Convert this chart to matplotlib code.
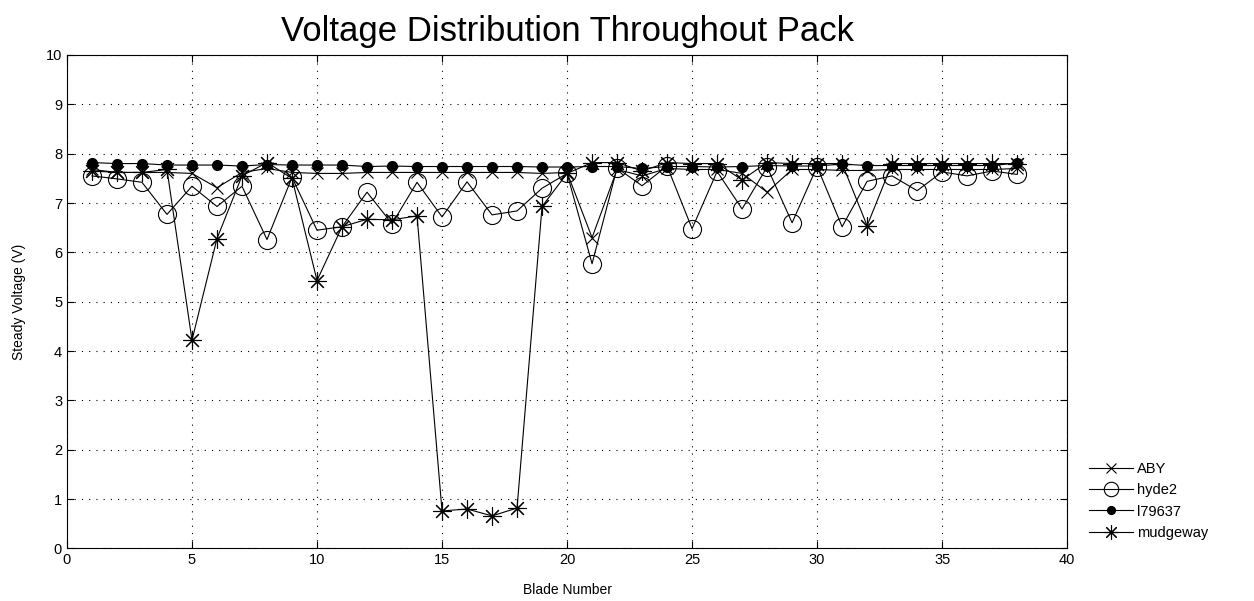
import matplotlib

matplotlib.use("Agg")

import matplotlib.pyplot as plt
import numpy as np

plt.rcParams["font.family"] = ["Liberation Sans", "DejaVu Sans"]

# ---------------------------------------------------------------------------
# Data
# ---------------------------------------------------------------------------
blades = np.arange(1, 39)

aby = [7.68, 7.62, 7.62, 7.62, 7.60, 7.31, 7.62, 7.70, 7.62, 7.60,
       7.60, 7.62, 7.62, 7.62, 7.62, 7.62, 7.62, 7.62, 7.60, 7.62,
       6.30, 7.68, 7.55, 7.70, 7.68, 7.68, 7.60, 7.22, 7.68, 7.68,
       7.66, 7.66, 7.68, 7.68, 7.68, 7.68, 7.68, 7.70]

hyde2 = [7.55, 7.49, 7.42, 6.77, 7.34, 6.93, 7.34, 6.26, 7.52, 6.45,
         6.52, 7.22, 6.58, 7.42, 6.72, 7.43, 6.76, 6.84, 7.30, 7.60,
         5.77, 7.71, 7.35, 7.75, 6.48, 7.64, 6.88, 7.73, 6.60, 7.74,
         6.52, 7.44, 7.55, 7.25, 7.63, 7.55, 7.65, 7.58]

l79637 = [7.82, 7.80, 7.80, 7.77, 7.77, 7.77, 7.75, 7.78, 7.77, 7.77,
          7.77, 7.74, 7.75, 7.74, 7.74, 7.74, 7.74, 7.74, 7.73, 7.73,
          7.74, 7.74, 7.70, 7.74, 7.74, 7.73, 7.74, 7.76, 7.75, 7.75,
          7.79, 7.76, 7.76, 7.76, 7.76, 7.76, 7.76, 7.81]

mudgeway = [7.65, 7.62, 7.62, 7.68, 4.22, 6.28, 7.55, 7.82, 7.50, 5.43,
            6.52, 6.67, 6.66, 6.74, 0.76, 0.80, 0.66, 0.82, 6.93, 7.60,
            7.82, 7.82, 7.65, 7.82, 7.80, 7.80, 7.47, 7.82, 7.80, 7.80,
            7.80, 6.54, 7.80, 7.80, 7.80, 7.80, 7.80, 7.80]

series_names = ["ABY", "hyde2", "l79637", "mudgeway"]

# ---------------------------------------------------------------------------
# Plot
# ---------------------------------------------------------------------------
fig = plt.figure(figsize=(12.54, 6.01), dpi=100)
ax = fig.add_axes([0.0534, 0.0874, 0.7976, 0.8211])

lw = 0.8
ax.plot(blades, aby, color="black", lw=lw, marker="x", ms=9, mew=0.8,
        label=series_names[0])
ax.plot(blades, hyde2, color="black", lw=lw, marker="o", ms=13, mew=0.8,
        mfc="none", label=series_names[1])
ax.plot(blades, l79637, color="black", lw=lw, marker="o", ms=7,
        label=series_names[2])
ax.plot(blades, mudgeway, color="black", lw=lw, marker=(8, 2, 0), ms=13,
        mew=0.8, label=series_names[3])

ax.set_xlim(0, 40)
ax.set_ylim(0, 10)
ax.set_xticks(np.arange(0, 41, 5))
ax.set_yticks(np.arange(0, 11, 1))
ax.tick_params(direction="in", top=True, right=True, labelsize=10.5,
               length=5, width=0.8)
ax.grid(True, color="black", linestyle=(0, (1, 5.5)), linewidth=0.8)
for spine in ax.spines.values():
    spine.set_linewidth(0.8)

ax.set_title("Voltage Distribution Throughout Pack", fontsize=25, pad=10)
ax.set_xlabel("Blade Number", fontsize=10, labelpad=11)
ax.set_ylabel("Steady Voltage (V)", fontsize=10, labelpad=14)

fig.legend(loc="lower left", bbox_to_anchor=(0.864, 0.092), frameon=False,
           fontsize=10.5, handlelength=3.0, labelspacing=0.5,
           handletextpad=0.3, borderaxespad=0, markerscale=0.8)

fig.savefig("out.png", dpi=100)
